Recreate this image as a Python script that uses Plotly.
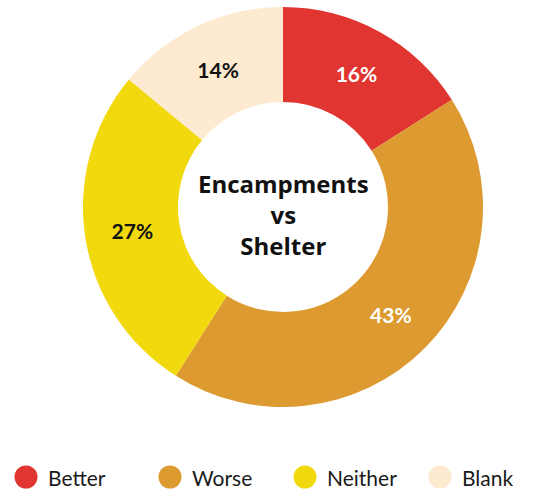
import plotly.graph_objects as go

labels = ["Better", "Worse", "Neither", "Blank"]
values = [16, 43, 27, 14]
colors = ["#E03530", "#DD9A30", "#F2D90E", "#FDEAD0"]
text_colors = ["#FFFFFF", "#FFFFFF", "#111111", "#111111"]
center_lines = ["Encampments", "vs", "Shelter"]

W, H = 559, 491
FONT = "Lato"
CFONT = "Open Sans"

fig = go.Figure()
fig.add_trace(go.Pie(
    labels=labels, values=values, sort=False, direction="clockwise", rotation=0,
    hole=0.525,
    marker=dict(colors=colors, line=dict(width=0)),
    texttemplate="%{value}%", textposition="inside", insidetextorientation="horizontal",
    textfont=dict(family=FONT, size=21, color=text_colors, weight="bold"),
    domain=dict(x=[83 / W, 483 / W], y=[1 - 407 / H, 1 - 7 / H]),
    showlegend=False, hoverinfo="label+percent",
))

# center text
fig.add_annotation(x=283 / W, y=1 - 214 / H, xref="paper", yref="paper",
                   text="<br>".join("<b>%s</b>" % s for s in center_lines),
                   showarrow=False, xanchor="center", yanchor="middle", align="center",
                   font=dict(family=CFONT, size=24, color="#111111"))

# custom legend with circle markers
leg_cx = [26, 170, 305, 440]
leg_y = 477
r = 11.5
for lab, col, cx in zip(labels, colors, leg_cx):
    fig.add_shape(type="circle", xref="paper", yref="paper",
                  x0=(cx - r) / W, x1=(cx + r) / W,
                  y0=1 - (leg_y + r) / H, y1=1 - (leg_y - r) / H,
                  fillcolor=col, line=dict(width=0))
    fig.add_annotation(x=(cx + r + 8) / W, y=1 - leg_y / H, xref="paper", yref="paper",
                       text=lab, showarrow=False, xanchor="left", yanchor="middle",
                       font=dict(family=FONT, size=21, color="#1a1a1a"))

fig.update_layout(width=W, height=H, margin=dict(l=0, r=0, t=0, b=0),
                  paper_bgcolor="white", plot_bgcolor="white")
fig.write_html("out.html")
